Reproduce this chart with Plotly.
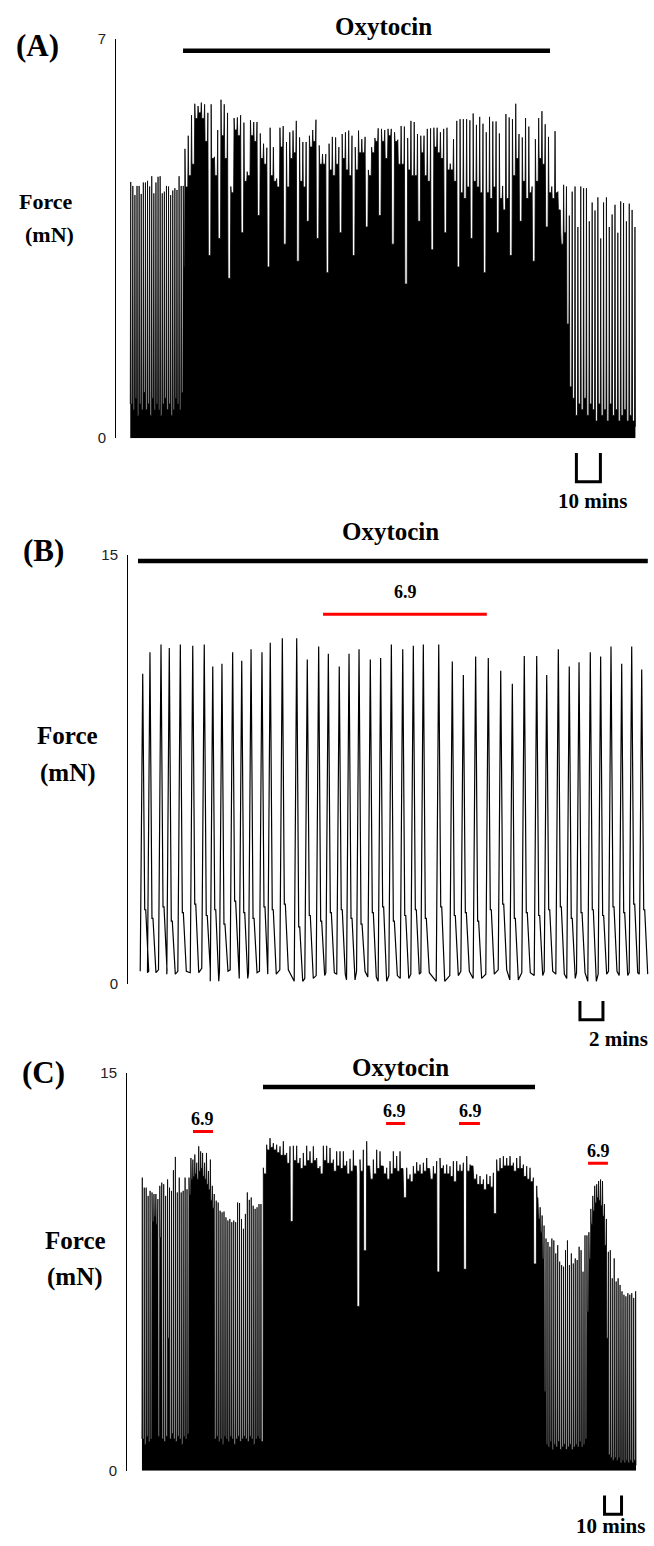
import numpy as np
import plotly.graph_objects as go

W, H = 654, 1546

# ---------------- Panel A (Force, mN; time in min) ----------------
a_seg_t = [(0.3, 22.2), (22.9, 177.1), (178.3, 210.4)]
a_peaks_pre = [4.49,4.42,4.26,4.42,4.42,4.28,4.48,4.48,4.51,4.41,4.59,4.29,4.48,4.58,4.59,4.29,
               4.32,4.42,4.41,4.26,4.34,4.38,4.35,4.59,4.42,4.42]
a_notch_pre = [0.6,0.5,0.7,0.4,0.6,0.5,0.8,0.5,0.6,0.4,0.7,0.5,0.6,0.5,0.4,0.6,0.7,0.5,0.6,0.4,
               0.5,0.7,0.6,0.5,0.8,3.0]
a_peaks_oxy = [5.07,5.30,5.66,5.86,5.82,5.88,5.85,5.70,5.85,4.93,
               5.40,5.93,5.85,5.70,4.41,5.61,5.62,5.66,5.53,4.67,
               5.57,5.54,5.54,5.34,5.16,5.09,5.44,5.10,4.55,5.44,
               5.47,5.19,5.36,5.39,5.56,5.27,5.19,5.19,5.30,5.40,
               5.58,5.13,4.98,4.98,5.16,5.28,5.27,5.10,5.33,5.36,
               5.39,5.30,5.10,5.39,5.24,5.28,4.70,5.10,5.26,5.43,
               5.42,5.40,5.42,5.42,5.36,5.23,5.47,5.46,5.26,5.56,
               5.54,5.33,5.30,5.30,5.42,5.43,5.44,5.44,5.36,5.42,
               5.44,4.81,5.24,5.56,5.59,5.59,5.59,5.57,5.69,5.49,
               5.63,5.51,5.36,5.63,5.55,5.55,5.34,4.42,5.68,5.62,
               5.59,5.86,5.33,5.27,5.61,5.46,4.41,5.24,5.61,5.73,
               5.50,5.28,4.41,5.38]
a_notch_oxy = [4.4,4.6,4.8,5.6,5.7,5.6,5.2,3.2,4.9,4.6,
               3.5,5.3,4.9,2.8,4.3,5.4,5.3,3.6,4.5,4.6,
               5.3,5.2,3.9,4.9,4.8,3.0,4.6,4.5,4.4,5.1,
               3.4,4.4,4.9,5.0,3.1,4.5,4.4,3.8,5.1,5.2,
               3.5,4.8,4.8,2.9,4.7,4.6,4.8,3.6,4.9,4.7,
               4.6,3.2,4.7,5.0,5.0,3.7,4.6,5.0,5.2,3.9,
               5.2,4.9,5.3,3.4,5.2,4.8,4.8,2.7,4.7,4.6,
               4.6,3.8,5.0,4.6,4.5,3.3,5.1,5.0,4.9,3.6,
               4.7,4.7,4.5,3.0,4.3,4.2,4.4,3.5,4.5,4.4,
               4.3,2.9,4.3,4.2,4.4,3.6,4.2,4.0,4.2,3.2,
               4.6,4.9,3.8,4.5,4.2,4.3,3.1,4.5,4.9,4.8,
               3.7,4.3,4.2,4.3]
a_peaks_post = [4.32,3.60,4.44,4.41,3.90,4.32,4.41,3.70,4.41,4.38,4.38,3.80,4.13,3.99,
                4.22,3.50,4.13,4.22,3.70,3.92,4.09,3.60,4.15,4.12,3.80,4.11,4.00,3.70]
a_notch_post = [4.0,3.4,3.6,2.0,0.9,0.7,0.4,0.6,0.5,0.7,0.4,0.6,0.5,0.3,
                0.6,0.4,0.5,0.3,0.6,0.4,0.5,0.3,0.4,0.5,0.3,0.4,0.3,0.2]

# ---------------- Panel B ----------------
b_times = [1.28,1.91,2.87,3.59,4.55,5.63,6.63,7.37,8.17,9.10,9.89,10.70,11.65,12.37,13.42,
           14.67,15.59,16.58,17.42,18.37,19.22,20.09,21.07,21.97,22.90,23.89,24.81,25.68,
           27.02,28.20,29.16,30.23,31.33,32.41,33.42,34.46,35.54,36.41,37.42,38.37,39.22,
           40.20,41.10,42.00,42.93,43.80,44.67]
b_peaks = [10.85,11.6,11.87,11.75,11.87,11.83,11.87,11.1,11.2,11.6,11.3,11.7,11.6,11.93,12.09,
           12.09,11.35,11.8,11.55,11.1,11.55,11.7,11.35,11.4,11.87,11.7,11.83,11.87,11.87,11.28,
           10.8,11.45,11.4,10.95,10.5,11.47,11.47,10.8,11.7,11.1,11.25,11.6,11.45,11.8,11.2,11.8,11.0]
b_shoulder = [2.6,2.3,2.7,2.2,2.5,2.8,2.4,2.6,2.1,2.9,2.5,2.3,2.7,2.6,2.8,2.0,2.4,2.2,2.5,2.6,
              2.3,2.1,2.5,2.7,2.2,2.4,2.6,2.3,2.7,2.4,2.5,2.2,2.6,2.8,2.3,2.5,2.4,2.6,2.7,2.3,
              2.5,2.6,2.4,2.7,2.5,2.8,2.6]
b_trough = [0.45,0.4,0.5,0.35,0.45,0.4,0.55,0.1,0.45,0.5,0.2,0.4,0.45,0.35,0.5,0.1,0.2,0.3,
            0.4,0.35,0.15,0.45,0.25,0.1,0.3,0.2,0.35,0.4,0.1,0.3,0.45,0.2,0.35,0.5,0.15,0.4,
            0.3,0.45,0.35,0.2,0.4,0.1,0.35,0.45,0.3,0.4,0.35]

# ---------------- Panel C ----------------
c_seg_t = [(9.0, 78.8), (80.2, 241.0), (241.9, 299.2)]
c_peaks_pre = [11.06,10.68,10.68,10.37,10.56,10.50,10.44,10.44,10.25,10.75,10.87,10.81,10.37,
               10.99,10.68,10.56,11.34,11.84,10.50,11.06,10.50,10.56,11.06,10.62,
               11.06,11.80,11.74,11.93,11.62,12.24,12.05,11.99,11.62,11.99,11.31,11.74,10.75,
               10.44,10.19,10.12,9.81,9.75,9.78,9.56,9.44,9.50,9.38,9.44,9.38,10.12,10.10,9.50,
               9.13,9.69,10.50,10.22,10.31,10.00,9.88,9.94,10.06,10.06]
c_notch_pre = [1.2,1.0,1.3,1.1,1.2,9.4,9.6,9.3,1.3,8.8,1.2,1.1,1.3,5.0,1.2,1.4,1.2,
               1.1,1.3,1.2,1.0,1.3,1.2,1.4,
               10.4,11.0,11.1,11.2,11.0,11.3,11.4,11.1,11.0,10.8,10.6,10.2,9.9,
               1.2,1.3,1.1,1.2,1.0,1.3,1.2,1.1,1.3,1.2,1.0,1.2,1.3,1.1,1.2,1.3,1.2,1.1,
               1.3,1.2,1.0,1.2,1.3,1.2,1.1]
c_peaks_oxy = [11.43,12.30,12.55,12.36,12.30,12.24,12.43,11.99,12.24,12.26,12.26,11.80,11.99,
               12.26,12.05,12.24,11.80,11.49,12.26,12.26,12.18,11.74,12.05,12.05,12.05,11.68,
               11.77,12.09,11.14,11.74,12.11,12.43,11.24,11.74,12.11,12.05,11.49,11.43,11.68,
               12.05,11.87,12.05,10.50,11.43,11.18,11.49,11.64,11.55,11.62,11.80,11.24,11.49,
               11.68,11.80,11.52,11.55,11.49,11.68,11.68,11.55,11.62,11.87,11.55,11.31,11.18,
               11.12,10.99,11.18,11.12,11.24,11.74,11.80,11.87,11.80,11.87,11.62,11.80,11.87,
               11.55,11.49,11.43,11.06,10.75]
c_notch_oxy = [11.2,12.1,12.2,12.1,12.0,11.9,11.9,
               11.6,9.4,11.7,11.6,11.4,11.5,11.7,11.6,11.7,11.4,11.2,
               11.7,11.6,11.6,11.3,11.5,11.4,11.5,11.2,11.3,11.5,
               6.2,11.3,8.3,11.5,11.0,11.2,11.4,11.5,11.2,11.0,11.2,11.4,11.3,11.4,
               10.3,11.0,10.9,11.2,11.3,11.2,11.3,11.4,11.0,11.2,7.5,
               11.4,11.2,11.2,11.1,10.9,11.3,11.3,7.6,11.3,11.5,
               11.0,10.8,10.8,10.6,10.8,10.7,9.7,11.3,11.4,11.5,
               11.5,11.5,11.3,11.4,11.4,11.1,11.0,10.9,7.8,10.3]
c_peaks_post = [10.06,9.94,9.63,9.25,8.76,8.63,8.45,8.76,8.69,8.20,8.51,7.89,7.76,7.70,8.32,
                8.69,7.76,8.20,7.82,8.01,7.95,8.45,8.32,7.51,8.88,8.88,9.00,9.88,10.37,10.75,
                10.81,10.93,10.99,10.93,10.06,9.50,8.26,8.32,7.26,8.01,7.14,7.26,7.01,6.77,
                6.64,6.58,6.70,6.64,6.70,6.52,6.77]
c_notch_post = [9.5,9.0,8.0,3.0,1.0,0.9,1.1,0.8,1.0,0.9,1.1,0.8,0.9,1.0,0.8,0.9,1.0,0.8,0.9,
                1.0,0.9,1.1,0.9,1.0,1.2,
                6.0,8.0,9.3,9.8,10.1,10.3,10.2,
                10.0,9.6,8.5,5.0,0.6,0.5,0.4,0.5,0.4,0.5,
                0.3,0.4,0.3,0.4,0.3,0.4,0.3,0.4,0.2]

# ---------------- geometry (pixels) ----------------
A_PPM, B_PPM, C_PPM = 2.4, 11.5, 1.7        # pixels per minute
A_X0, B_X0, C_X0 = 130, 128, 127           # pixel of t = 0
A_DOM, B_DOM, C_DOM = (116, 640), (128, 652), (127, 645)
A_YPX, B_YPX, C_YPX = (30, 434), (552, 986), (1076, 1478)


def xr(dom, x0, ppm):
    return [(dom[0] - x0) / ppm, (dom[1] - x0) / ppm]


def px(x):
    return x / W


def py(y):
    return 1 - y / H


def train(segments, hw):
    xs, ys, prev = [], [], None
    for (t0, t1), pk, nt in segments:
        ts = np.linspace(t0, t1, len(pk))
        for t, p, n in zip(ts, pk, nt):
            if prev is None:
                prev = n
            xs += [t - hw, t, t + hw]
            ys += [prev, p, n]
            prev = n
    return xs, ys


ax_, ay_ = train([(a_seg_t[0], a_peaks_pre, a_notch_pre),
                  (a_seg_t[1], a_peaks_oxy, a_notch_oxy),
                  (a_seg_t[2], a_peaks_post, a_notch_post)], 0.45 / A_PPM)
cx_, cy_ = train([(c_seg_t[0], c_peaks_pre, c_notch_pre),
                  (c_seg_t[1], c_peaks_oxy, c_notch_oxy),
                  (c_seg_t[2], c_peaks_post, c_notch_post)], 0.35 / C_PPM)

bo = np.array([-2.5, 0.0, 2.0, 3.0, 6.0]) / B_PPM
bx_, by_ = [], []
for t, p, s, tr in zip(b_times, b_peaks, b_shoulder, b_trough):
    bx_ += list(t + bo)
    by_ += [tr, p, s, s, tr]

fig = go.Figure()
fig.add_trace(go.Scatter(x=ax_, y=ay_, mode="lines", fill="tozeroy", fillcolor="black",
                         line=dict(color="black", width=0.8), xaxis="x", yaxis="y",
                         showlegend=False, hoverinfo="skip"))
fig.add_trace(go.Scatter(x=bx_, y=by_, mode="lines",
                         line=dict(color="black", width=1.2), xaxis="x2", yaxis="y2",
                         showlegend=False, hoverinfo="skip"))
fig.add_trace(go.Scatter(x=cx_, y=cy_, mode="lines", fill="tozeroy", fillcolor="black",
                         line=dict(color="black", width=0.8), xaxis="x3", yaxis="y3",
                         showlegend=False, hoverinfo="skip"))

tickfont = dict(family="Liberation Sans", size=15, color="#222")


def yax(ypx, top, anchor):
    return dict(domain=[py(ypx[1]), py(ypx[0])], range=[0, top], tickvals=[0, top],
                ticks="inside", ticklen=7, tickwidth=1, tickcolor="black",
                showline=True, linecolor="black", linewidth=1, showgrid=False,
                zeroline=False, tickfont=tickfont, anchor=anchor, ticklabelstandoff=6,
                fixedrange=True)


def xax(dom, rng, anchor):
    return dict(domain=[px(dom[0]), px(dom[1])], range=rng, visible=False,
                anchor=anchor, fixedrange=True)


fig.update_layout(
    width=W, height=H, margin=dict(l=0, r=0, t=0, b=0),
    paper_bgcolor="white", plot_bgcolor="white", showlegend=False,
    xaxis=xax(A_DOM, xr(A_DOM, A_X0, A_PPM), "y"),
    yaxis=yax(A_YPX, 7, "x"),
    xaxis2=xax(B_DOM, xr(B_DOM, B_X0, B_PPM), "y2"),
    yaxis2=yax(B_YPX, 15, "x2"),
    xaxis3=xax(C_DOM, xr(C_DOM, C_X0, C_PPM), "y3"),
    yaxis3=yax(C_YPX, 15, "x3"),
)

serif = "Liberation Serif"
shapes, annos = [], []


def bar(xref, yref, x0, x1, y, color, w):
    shapes.append(dict(type="line", xref=xref, yref=yref, x0=x0, x1=x1, y0=y, y1=y,
                       line=dict(color=color, width=w)))


def text(s, x, y, size, xref="paper", yref="paper"):
    annos.append(dict(text="<b>%s</b>" % s, x=x, y=y, xref=xref, yref=yref, showarrow=False,
                      xanchor="center", yanchor="middle",
                      font=dict(family=serif, size=size, color="black")))


def scalebar(xref, t0, t1, ytop, ybot):
    shapes.append(dict(type="path", xref=xref, yref="paper",
                       path="M %f,%f L %f,%f L %f,%f L %f,%f" % (t0, py(ytop), t0, py(ybot),
                                                               t1, py(ybot), t1, py(ytop)),
                       line=dict(color="black", width=3)))


# Panel A annotations
bar("x", "y", 22.1, 175.0, 6.79, "black", 4.5)
text("Oxytocin", px(383), py(18), 25)
scalebar("x", 186.0, 196.0, 449, 478)
text("10 mins", px(592), py(497), 21)
text("(A)", px(37), py(37), 31)
text("Force", px(46), py(195), 22)
text("(mN)", px(49), py(228), 22)

# Panel B annotations
bar("x2", "y2", 0.87, 45.2, 14.79, "black", 4.5)
text("Oxytocin", px(390), py(528), 25)
bar("x2", "y2", 16.96, 31.2, 12.93, "red", 3)
text("6.9", 24.1, 13.69, 18, "x2", "y2")
scalebar("x2", 39.3, 41.3, 1003, 1022)
text("2 mins", px(618), py(1041), 21)
text("(B)", px(44), py(548), 31)
text("Force", px(67), py(735), 25)
text("(mN)", px(68), py(772), 25)

# Panel C annotations
bar("x3", "y3", 80.0, 240.0, 14.48, "black", 4.5)
text("Oxytocin", px(400), py(1070), 25)
for (t0, t1, yb), (tt, ty) in zip([(38.8, 50.6, 12.80), (152.4, 163.5, 13.10),
                                   (195.3, 207.6, 13.10), (271.2, 282.9, 11.60)],
                                  [(44.7, 13.28), (157.6, 13.58), (201.8, 13.58), (277.1, 12.05)]):
    bar("x3", "y3", t0, t1, yb, "red", 3)
    text("6.9", tt, ty, 18, "x3", "y3")
scalebar("x3", 280.9, 290.9, 1503, 1522)
text("10 mins", px(610), py(1534), 21)
text("(C)", px(44), py(1075), 31)
text("Force", px(75), py(1245), 25)
text("(mN)", px(75), py(1282), 25)

fig.update_layout(shapes=shapes, annotations=annos)
fig.write_html("out.html")
